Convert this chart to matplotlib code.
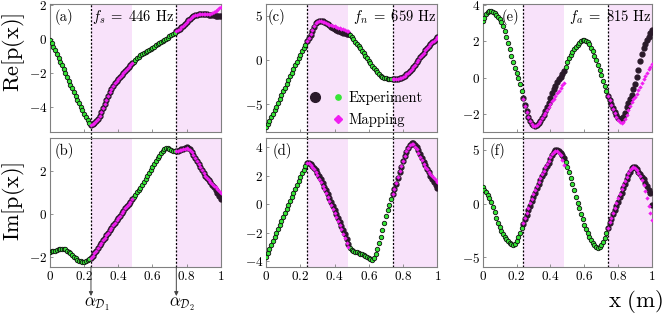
import numpy as np
import matplotlib
matplotlib.use('Agg')
import matplotlib.pyplot as plt
from matplotlib.legend_handler import HandlerTuple
from matplotlib.lines import Line2D

plt.rcParams.update({
    'font.family': 'serif',
    'font.serif': ['cmr10', 'DejaVu Serif'],
    'mathtext.fontset': 'cm',
    'axes.formatter.use_mathtext': True,
})

# ---------------- data ----------------
x = np.round(np.linspace(0, 1, 101), 2)          # measurement positions (m)
map_x1 = np.round(np.linspace(0.24, 0.48, 25), 2)  # mapping, first shaded zone
map_x2 = np.round(np.linspace(0.74, 1.00, 27), 2)  # mapping, second shaded zone

alpha_d1 = 0.24
alpha_d2 = 0.74
zone1_end = 0.48
zone2_end = 1.0

re_a = [-0.05, -0.25, -0.45, -0.66, -0.88, -1.10, -1.32, -1.54, -1.77, -2.00,
        -2.22, -2.45, -2.67, -2.90, -3.12, -3.34, -3.55, -3.76, -3.97, -4.18,
        -4.38, -4.57, -4.75, -4.92, -5.05, -5.00, -4.93, -4.83, -4.70, -4.52,
        -4.30, -4.05, -3.80, -3.55, -3.32, -3.12, -2.93, -2.76, -2.60, -2.46,
        -2.33, -2.21, -2.10, -1.99, -1.89, -1.78, -1.67, -1.55, -1.43, -1.33,
        -1.22, -1.12, -1.03, -0.95, -0.88, -0.82, -0.76, -0.70, -0.64, -0.58,
        -0.52, -0.45, -0.38, -0.31, -0.25, -0.18, -0.12, -0.05, 0.01, 0.08,
        0.15, 0.22, 0.30, 0.38, 0.46, 0.53, 0.60, 0.68, 0.78, 0.90,
        1.02, 1.12, 1.20, 1.27, 1.33, 1.38, 1.42, 1.45, 1.46, 1.47,
        1.48, 1.47, 1.45, 1.42, 1.40, 1.39, 1.38, 1.37, 1.36, 1.35,
        1.35]
map_a1 = [-5.05, -5.00, -4.93, -4.83, -4.70, -4.52, -4.30, -4.05, -3.80, -3.55,
          -3.32, -3.12, -2.93, -2.76, -2.60, -2.46, -2.33, -2.21, -2.10, -1.99,
          -1.89, -1.78, -1.67, -1.55, -1.43]
map_a2 = [0.46, 0.53, 0.60, 0.68, 0.78, 0.90, 1.02, 1.12, 1.20, 1.27,
          1.33, 1.38, 1.42, 1.44, 1.45, 1.45, 1.45, 1.45, 1.45, 1.46,
          1.48, 1.52, 1.58, 1.65, 1.72, 1.79, 1.86]

im_b = [-1.75, -1.73, -1.71, -1.69, -1.67, -1.64, -1.62, -1.60, -1.61, -1.64,
        -1.69, -1.75, -1.82, -1.90, -1.98, -2.05, -2.11, -2.16, -2.19, -2.20,
        -2.20, -2.18, -2.15, -2.10, -2.04, -1.92, -1.80, -1.69, -1.57, -1.45,
        -1.33, -1.21, -1.10, -0.98, -0.86, -0.74, -0.63, -0.52, -0.41, -0.30,
        -0.19, -0.08, 0.03, 0.14, 0.25, 0.36, 0.46, 0.57, 0.67, 0.78,
        0.89, 1.00, 1.10, 1.21, 1.32, 1.45, 1.59, 1.73, 1.88, 2.02,
        2.16, 2.30, 2.43, 2.56, 2.68, 2.80, 2.90, 2.98, 3.02, 3.03,
        3.00, 2.96, 2.92, 2.89, 2.88, 2.90, 2.94, 2.97, 3.00, 3.04,
        3.07, 3.05, 2.98, 2.87, 2.73, 2.58, 2.44, 2.30, 2.16, 2.02,
        1.89, 1.77, 1.66, 1.55, 1.45, 1.35, 1.23, 1.10, 0.96, 0.82,
        0.68]
map_b1 = [-2.04, -1.92, -1.80, -1.69, -1.57, -1.45, -1.33, -1.21, -1.10, -0.98,
          -0.86, -0.74, -0.63, -0.52, -0.41, -0.30, -0.19, -0.08, 0.03, 0.14,
          0.25, 0.36, 0.46, 0.57, 0.67]
map_b2 = [2.88, 2.90, 2.93, 2.96, 2.98, 3.00, 3.02, 3.00, 2.94, 2.84,
          2.71, 2.57, 2.43, 2.29, 2.15, 2.01, 1.88, 1.76, 1.65, 1.55,
          1.46, 1.38, 1.30, 1.22, 1.14, 1.05, 0.96]

re_c = [-7.60, -7.25, -6.88, -6.50, -6.10, -5.70, -5.28, -4.86, -4.43, -4.00,
        -3.57, -3.14, -2.71, -2.28, -1.86, -1.44, -1.03, -0.62, -0.22, 0.18,
        0.58, 0.97, 1.35, 1.72, 2.08, 2.45, 2.85, 3.30, 3.75, 4.10,
        4.30, 4.38, 4.38, 4.33, 4.25, 4.15, 4.03, 3.90, 3.75, 3.62,
        3.50, 3.40, 3.30, 3.20, 3.10, 3.03, 2.98, 2.94, 2.90, 2.75,
        2.55, 2.30, 2.05, 1.80, 1.55, 1.28, 1.00, 0.72, 0.44, 0.16,
        -0.12, -0.40, -0.68, -0.95, -1.20, -1.43, -1.63, -1.80, -1.93, -2.03,
        -2.10, -2.15, -2.18, -2.20, -2.20, -2.20, -2.18, -2.15, -2.10, -2.02,
        -1.92, -1.80, -1.65, -1.47, -1.27, -1.05, -0.80, -0.54, -0.27, 0.00,
        0.27, 0.54, 0.80, 1.06, 1.30, 1.54, 1.76, 1.97, 2.17, 2.36,
        2.55]
map_c1 = [2.10, 2.50, 2.92, 3.35, 3.78, 4.12, 4.30, 4.36, 4.35, 4.30,
          4.24, 4.17, 4.08, 3.98, 3.90, 3.83, 3.76, 3.70, 3.64, 3.58,
          3.52, 3.45, 3.38, 3.30, 3.20]
map_c2 = [-2.20, -2.20, -2.18, -2.15, -2.10, -2.02, -1.92, -1.80, -1.65, -1.47,
          -1.27, -1.05, -0.80, -0.54, -0.27, 0.00, 0.27, 0.54, 0.80, 1.06,
          1.30, 1.54, 1.76, 1.97, 2.17, 2.36, 2.55]

im_d = [-3.70, -3.42, -3.14, -2.86, -2.58, -2.30, -2.02, -1.74, -1.46, -1.18,
        -0.90, -0.62, -0.34, -0.06, 0.22, 0.50, 0.78, 1.06, 1.34, 1.62,
        1.90, 2.17, 2.43, 2.70, 2.93, 2.92, 2.84, 2.72, 2.56, 2.38,
        2.18, 1.97, 1.74, 1.50, 1.24, 0.98, 0.70, 0.42, 0.14, -0.14,
        -0.42, -0.70, -0.98, -1.26, -1.54, -1.82, -2.10, -2.45, -2.82, -3.05,
        -3.18, -3.27, -3.33, -3.38, -3.42, -3.46, -3.50, -3.55, -3.62, -3.70,
        -3.78, -3.85, -3.88, -3.75, -3.50, -3.15, -2.75, -2.30, -1.80, -1.32,
        -0.85, -0.42, -0.02, 0.35, 0.70, 1.05, 1.45, 1.85, 2.25, 2.65,
        3.02, 3.38, 3.70, 3.97, 4.18, 4.28, 4.27, 4.17, 4.00, 3.78,
        3.53, 3.27, 3.00, 2.74, 2.48, 2.23, 1.98, 1.75, 1.53, 1.32,
        1.12]
map_d1 = [2.93, 2.88, 2.78, 2.63, 2.45, 2.25, 2.03, 1.80, 1.56, 1.30,
          1.04, 0.76, 0.48, 0.20, -0.08, -0.36, -0.64, -0.92, -1.20, -1.48,
          -1.76, -2.05, -2.36, -2.70, -3.00]
map_d2 = [0.75, 1.10, 1.50, 1.90, 2.30, 2.70, 3.06, 3.40, 3.72, 3.98,
          4.17, 4.25, 4.20, 4.05, 3.85, 3.60, 3.35, 3.10, 2.86, 2.64,
          2.45, 2.28, 2.12, 1.97, 1.83, 1.70, 1.58]

re_e = [3.10, 3.30, 3.48, 3.60, 3.66, 3.65, 3.60, 3.53, 3.45, 3.35,
        3.22, 3.05, 2.82, 2.55, 2.25, 1.90, 1.55, 1.20, 0.87, 0.55,
        0.25, -0.05, -0.37, -0.75, -1.15, -1.50, -1.85, -2.15, -2.38, -2.55,
        -2.64, -2.66, -2.62, -2.53, -2.40, -2.24, -2.05, -1.84, -1.62, -1.38,
        -1.13, -0.87, -0.65, -0.45, -0.25, -0.10, 0.05, 0.20, 0.38, 0.60,
        0.85, 1.05, 1.25, 1.42, 1.56, 1.68, 1.80, 1.92, 2.02, 2.08,
        2.08, 2.03, 1.95, 1.82, 1.65, 1.44, 1.20, 0.95, 0.68, 0.40,
        0.12, -0.17, -0.45, -0.75, -1.00, -1.25, -1.48, -1.70, -1.90, -2.08,
        -2.22, -2.30, -2.30, -2.20, -1.95, -1.65, -1.40, -1.18, -0.95, -0.65,
        -0.33, 0.02, 0.42, 0.90, 1.30, 1.65, 1.85, 2.05, 2.25, 2.45,
        2.62]
map_e1 = [-1.20, -1.55, -1.90, -2.20, -2.42, -2.58, -2.66, -2.66, -2.60, -2.50,
          -2.37, -2.23, -2.08, -1.93, -1.78, -1.62, -1.47, -1.32, -1.17, -1.02,
          -0.87, -0.73, -0.58, -0.43, -0.30]
map_e2 = [-1.00, -1.25, -1.50, -1.73, -1.95, -2.15, -2.32, -2.45, -2.50, -2.45,
          -2.30, -2.05, -1.78, -1.55, -1.35, -1.20, -1.05, -0.88, -0.70, -0.50,
          -0.30, -0.10, 0.08, 0.25, 0.45, 0.60, 0.75]

im_f = [1.55, 1.30, 1.05, 0.80, 0.55, 0.15, -0.30, -0.80, -1.30, -1.78,
        -2.20, -2.55, -2.85, -3.10, -3.30, -3.50, -3.66, -3.78, -3.82, -3.72,
        -3.45, -3.10, -2.70, -2.30, -1.87, -1.45, -1.02, -0.60, -0.20, 0.20,
        0.62, 1.02, 1.42, 1.80, 2.17, 2.52, 2.85, 3.17, 3.50, 3.82,
        4.15, 4.50, 4.80, 4.97, 4.95, 4.85, 4.70, 4.50, 4.25, 3.85,
        3.40, 2.90, 2.35, 1.80, 1.22, 0.64, 0.08, -0.45, -0.98, -1.48,
        -1.95, -2.38, -2.75, -3.08, -3.38, -3.65, -3.88, -4.05, -4.10, -4.02,
        -3.85, -3.58, -3.20, -2.72, -2.25, -1.80, -1.40, -1.00, -0.60, -0.22,
        0.18, 0.58, 1.00, 1.42, 1.85, 2.25, 2.62, 2.98, 3.28, 3.42,
        3.38, 3.20, 2.98, 2.75, 2.50, 2.25, 1.95, 1.60, 1.25, 0.95,
        -0.10]
map_f1 = [-1.80, -1.30, -0.85, -0.40, 0.02, 0.45, 0.85, 1.25, 1.65, 2.02,
          2.38, 2.72, 3.05, 3.38, 3.70, 4.00, 4.30, 4.58, 4.80, 4.90,
          4.88, 4.75, 4.50, 4.08, 3.58]
map_f2 = [-2.25, -1.75, -1.30, -0.85, -0.40, 0.05, 0.50, 0.92, 1.35, 1.75,
          2.12, 2.48, 2.80, 3.08, 3.30, 3.40, 3.35, 3.15, 2.88, 2.55,
          2.15, 1.70, 1.20, 0.55, -0.20, -0.90, -1.55]

panel_letters = ['(a)', '(b)', '(c)', '(d)', '(e)', '(f)']
freq_labels = [r'$f_s\;=\;446$ Hz', r'$f_n\;=\;659$ Hz', r'$f_a\;=\;815$ Hz']
yticks_list = [[-4, -2, 0, 2], [-2, 0, 2], [-5, 0, 5], [-4, -2, 0, 2, 4], [-2, 0, 2, 4], [-5, 0, 5]]
ylims = [(-5.45, 2.05), (-2.45, 3.5), (-8.15, 6.3), (-4.4, 4.65), (-3.0, 4.05), (-5.9, 6.1)]
xticks = [0, 0.2, 0.4, 0.6, 0.8, 1]
xtick_labels = ['$0$', '$0.2$', '$0.4$', '$0.6$', '$0.8$', '$1$']

series = [(re_a, map_a1, map_a2), (im_b, map_b1, map_b2),
          (re_c, map_c1, map_c2), (im_d, map_d1, map_d2),
          (re_e, map_e1, map_e2), (im_f, map_f1, map_f2)]

# ---------------- style ----------------
GREEN = '#36e636'
DARK = '#2a1a2a'
MAGENTA = '#f01ef0'
SHADE = '#f8e2fa'
SPINE = '#808080'

fig = plt.figure(figsize=(6.65, 3.14), dpi=100)
col_x = [50 / 665, 266 / 665, 482.7 / 665]
col_w = [170.7 / 665, 171.3 / 665, 169.3 / 665]
row_y = [1 - 132 / 314, 1 - 267 / 314]
row_h = [128 / 314, 129 / 314]

letter_x = [0.03, 0.03, 0.012, 0.04, 0.11, 0.043]

xa = np.asarray(x)
shaded = ((xa >= alpha_d1) & (xa <= zone1_end)) | (xa >= alpha_d2)

axes = []
for i in range(6):
    col, row = i // 2, i % 2
    ax = fig.add_axes([col_x[col], row_y[row], col_w[col], row_h[row]])
    axes.append(ax)
    y, m1, m2 = series[i]
    y = np.asarray(y)
    ax.axvspan(alpha_d1, zone1_end, color=SHADE, lw=0, zorder=0)
    ax.axvspan(alpha_d2, zone2_end, color=SHADE, lw=0, zorder=0)
    ext = 0.05 if row == 0 else 0.0
    for a in (alpha_d1, alpha_d2):
        ax.axvline(a, ymin=-ext, ymax=1, color='k', ls=(0, (1.6, 1.4)), lw=0.9,
                   zorder=1, clip_on=False)
    ax.plot(xa[shaded], y[shaded], 'o', ls='', ms=3.5, color=DARK, mec=DARK, zorder=3)
    ax.plot(xa[~shaded], y[~shaded], 'o', ls='', ms=3.2, mfc=GREEN, mec='#111111',
            mew=0.6, zorder=3)
    ax.plot(map_x1, m1, 'D', ls='', ms=2.2, color=MAGENTA, mew=0, zorder=4)
    ax.plot(map_x2, m2, 'D', ls='', ms=2.2, color=MAGENTA, mew=0, zorder=4)

    ax.set_xlim(0, 1)
    ax.set_ylim(*ylims[i])
    ax.set_yticks(yticks_list[i])
    ax.set_yticklabels([f'${v}$' for v in yticks_list[i]])
    ax.set_xticks(xticks)
    if row == 1:
        ax.set_xticklabels(xtick_labels)
    else:
        ax.tick_params(labelbottom=False)
    ax.tick_params(direction='in', length=2.5, width=0.6, color=SPINE,
                   labelsize=9.5, pad=2)
    for s in ax.spines.values():
        s.set_color(SPINE)
        s.set_linewidth(0.8)
    ax.text(letter_x[i], 0.96, panel_letters[i], transform=ax.transAxes,
            ha='left', va='top', fontsize=10.5, zorder=6)

# frequency labels
axes[0].text(0.248, 0.965, freq_labels[0], transform=axes[0].transAxes,
             ha='left', va='top', fontsize=10.5, zorder=6)
axes[2].text(0.995, 0.965, freq_labels[1], transform=axes[2].transAxes,
             ha='right', va='top', fontsize=10.5, zorder=6)
axes[4].text(0.995, 0.965, freq_labels[2], transform=axes[4].transAxes,
             ha='right', va='top', fontsize=10.5, zorder=6)

# legend in panel (c)
h_dark = Line2D([], [], marker='o', ls='', color=DARK, ms=7)
h_green = Line2D([], [], marker='o', ls='', color=GREEN, ms=3.8)
h_blank = Line2D([], [], ls='', marker='')
h_mag = Line2D([], [], marker='D', ls='', color=MAGENTA, ms=4.5)
axes[2].legend([(h_dark, h_green), (h_blank, h_mag)], ['Experiment', 'Mapping'],
               handler_map={tuple: HandlerTuple(ndivide=None, pad=0.8)},
               loc='lower left', bbox_to_anchor=(0.19, -0.04), frameon=False,
               fontsize=10.5, handlelength=2.4, handletextpad=0.35,
               labelspacing=0.55, borderpad=0.2)

# alpha markers under panel (b)
axb = axes[1]
for a, lab in ((alpha_d1, r'$\alpha_{\mathcal{D}_1}$'), (alpha_d2, r'$\alpha_{\mathcal{D}_2}$')):
    axb.annotate('', xy=(a, -0.225), xycoords=('data', 'axes fraction'),
                 xytext=(a, 0.0), textcoords=('data', 'axes fraction'),
                 arrowprops=dict(arrowstyle='-|>', color='#444444', lw=0.7,
                                 mutation_scale=6, shrinkA=0, shrinkB=0))
    axb.text(a + 0.035, -0.285, lab, transform=axb.get_xaxis_transform(),
             ha='center', va='center', fontsize=12)

# axis labels
fig.text(0.0205, 1 - 52 / 314, r'$\mathrm{Re[p(x)]}$', rotation=90,
         ha='center', va='center', fontsize=16)
fig.text(0.0205, 1 - 201 / 314, r'$\mathrm{Im[p(x)]}$', rotation=90,
         ha='center', va='center', fontsize=16)
fig.text(0.998, 0.04, r'$\mathrm{x\ (m)}$', ha='right', va='center', fontsize=16.5)

fig.savefig('out.png', dpi=100)
